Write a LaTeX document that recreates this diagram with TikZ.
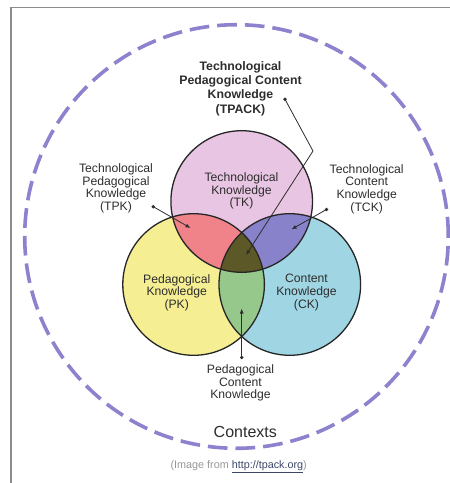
\documentclass[tikz,border=0pt]{standalone}
\usepackage{fontspec}
\setmainfont{Liberation Sans}
\usetikzlibrary{arrows.meta}

% region colours
\definecolor{tkfill}{RGB}{232,197,226}
\definecolor{pkfill}{RGB}{246,238,146}
\definecolor{ckfill}{RGB}{160,214,228}
\definecolor{tpkfill}{RGB}{240,130,138}
\definecolor{tckfill}{RGB}{136,130,202}
\definecolor{pckfill}{RGB}{150,200,140}
\definecolor{tpackfill}{RGB}{92,88,40}
\definecolor{ctxline}{RGB}{140,130,205}
\definecolor{labelcol}{RGB}{45,45,45}
\definecolor{framecol}{RGB}{140,140,140}
\definecolor{capgray}{RGB}{150,150,150}
\definecolor{linkcol}{RGB}{60,70,105}

\tikzset{
  vennr/.style={radius=70.8pt},
  vennline/.style={draw=black!85, line width=1.3pt},
  lbl/.style={align=center, inner sep=0pt, text=labelcol,
              font=\fontsize{12.2}{12.6}\selectfont},
  boldlbl/.style={align=center, inner sep=0pt, text=labelcol,
              font=\bfseries\fontsize{12.3}{14.4}\selectfont},
  conn/.style={draw=labelcol, line width=0.8pt,
               -{Latex[length=5pt,width=4pt]}},
  dotmark/.style={fill=labelcol},
}

\begin{document}
\begin{tikzpicture}[x=1pt,y=-1pt]
\useasboundingbox (0,0) rectangle (450,483);

% frame lines along the top and left edge
\draw[framecol, line width=1.4pt] (11,483) -- (11,7.3) -- (450,7.3);

% dashed context ring
\coordinate (ctxc) at (236.5,236.5);
\draw[ctxline, line width=3.6pt, dash pattern=on 19.7pt off 8pt]
  (ctxc) circle[radius=211.8pt];

% circle centres
\coordinate (tkc) at (241.7,201.5);
\coordinate (pkc) at (193.6,284.5);
\coordinate (ckc) at (289.8,284.5);

% single-set fills
\fill[tkfill] (tkc) circle[vennr];
\fill[pkfill] (pkc) circle[vennr];
\fill[ckfill] (ckc) circle[vennr];

% pairwise intersections
\begin{scope}
  \clip (pkc) circle[vennr];
  \fill[tpkfill] (tkc) circle[vennr];
\end{scope}
\begin{scope}
  \clip (ckc) circle[vennr];
  \fill[tckfill] (tkc) circle[vennr];
\end{scope}
\begin{scope}
  \clip (pkc) circle[vennr];
  \fill[pckfill] (ckc) circle[vennr];
\end{scope}
% triple intersection
\begin{scope}
  \clip (pkc) circle[vennr];
  \clip (ckc) circle[vennr];
  \fill[tpackfill] (tkc) circle[vennr];
\end{scope}

% outlines
\draw[vennline] (tkc) circle[vennr];
\draw[vennline] (pkc) circle[vennr];
\draw[vennline] (ckc) circle[vennr];

% labels
\node[lbl] (tk) at (241.5,191) {Technological\\Knowledge\\(TK)};
\node[lbl] (pk) at (176.7,292.5) {Pedagogical\\Knowledge\\(PK)};
\node[lbl] (ck) at (306.5,292.5) {Content\\Knowledge\\(CK)};
\node[lbl] (tpk) at (116,188.5) {Technological\\Pedagogical\\Knowledge\\(TPK)};
\node[lbl] (tck) at (366.7,189) {Technological\\Content\\Knowledge\\(TCK)};
\node[lbl] (pck) at (240.5,383) {Pedagogical\\Content\\Knowledge};
\node[boldlbl] (tpack) at (240.5,88.5)
  {Technological\\Pedagogical Content\\Knowledge\\(TPACK)};
\node[inner sep=0pt, text=labelcol, font=\fontsize{16}{18}\selectfont]
  (ctx) at (245.3,431.7) {Contexts};
\node[inner sep=0pt, text=capgray, font=\fontsize{10.8}{12}\selectfont]
  (cap) at (238.7,467)
  {(Image from \textcolor{linkcol}{\underline{http://tpack.org}})};

% callout dots and arrow tips
\coordinate (tpkdot) at (153.3,206.7);
\coordinate (tpktip) at (190.5,228);
\coordinate (tckdot) at (326.5,209.5);
\coordinate (tcktip) at (291.5,229.3);
\coordinate (pckdot) at (241.7,357.5);
\coordinate (pcktip) at (241.7,308.5);
\coordinate (tpackdot) at (285,99.3);
\coordinate (tpackbend) at (313,151);
\coordinate (tpacktip) at (246,255);

\foreach \d in {tpkdot,tckdot,pckdot,tpackdot}
  \fill[dotmark] (\d) circle[radius=1.9pt];

\draw[conn] (tpkdot) -- (tpktip);
\draw[conn] (tckdot) -- (tcktip);
\draw[conn] (pckdot) -- (pcktip);
\draw[conn] (tpackdot) -- (tpackbend) -- (tpacktip);

\end{tikzpicture}
\end{document}
